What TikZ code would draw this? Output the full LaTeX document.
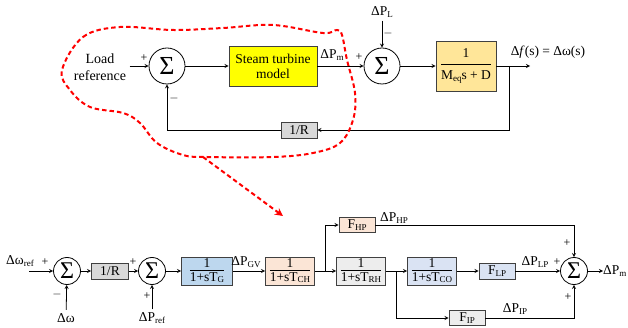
\documentclass[tikz,border=0pt]{standalone}
\usepackage{fontspec}
\setmainfont{Liberation Serif}
\usepackage{tikz}
\usetikzlibrary{shapes, arrows, arrows.meta, positioning, calc}
\definecolor{turbine-yellow}{RGB}{255,255,0}
\definecolor{plant-orange}{RGB}{255,230,153}
\definecolor{gain-gray}{RGB}{217,217,217}
\definecolor{gov-blue}{RGB}{189,215,238}
\definecolor{ch-peach}{RGB}{251,229,214}
\definecolor{rh-gray}{RGB}{237,237,237}
\definecolor{co-blue}{RGB}{218,227,243}
\newcommand{\subtxt}[1]{\raisebox{-0.2ex}{\fontsize{9}{9}\selectfont #1}}
\newcommand{\lagtf}[1]{$\frac{\mbox{1\rule[-2pt]{0pt}{2pt}}}{\mbox{\rule{0pt}{10.5pt}1+sT\subtxt{#1}}}$}

\begin{document}
\begin{tikzpicture}[
    x=1pt, y=-1pt,
    font=\fontsize{13.5}{15}\selectfont,
    block/.style={rectangle, draw=black!75, line width=0.9pt, inner sep=0pt, align=center},
    tfbox/.style={block, minimum width=49pt, minimum height=28pt},
    gainbox/.style={block, minimum width=36pt, minimum height=16pt},
    sumbig/.style={circle, draw, line width=0.8pt, minimum size=36pt, inner sep=0pt, font=\fontsize{26}{26}\selectfont},
    sumsmall/.style={sumbig, minimum size=27pt, font=\fontsize{24}{24}\selectfont},
    sign/.style={inner sep=0pt, font=\fontsize{12}{12}\selectfont},
    arrow/.style={->, line width=0.8pt, >=stealth},
    lens/.style={draw=red, line width=2pt, dash pattern=on 4.5pt off 3pt}
]
\useasboundingbox (0,0) rectangle (628,328);

% Modelo simplificado
\node[align=center, font=\fontsize{14}{17}\selectfont] (loadref) at (100,67) {Load\\reference};
\node[sumbig] (sumA) at (167,66) {Σ};
\node[block, fill=turbine-yellow, minimum width=88pt, minimum height=40pt] (turbine) at (273,66) {Steam turbine\\model};
\node[sumbig] (sumB) at (382,66) {Σ};
\node[block, fill=plant-orange, minimum width=60pt, minimum height=50pt] (plant) at (466,66) {$\frac{\mbox{1}\rule[-6pt]{0pt}{14pt}}{\mbox{\rule{0pt}{15pt}M\subtxt{eq}s + D}}$};
\node[gainbox, fill=gain-gray] (gainA) at (299,130) {1/R};
\node (dPL) at (382,12) {ΔP\subtxt{L}};
\coordinate (tap) at (509,66);
\coordinate (freq) at (530,66);
\node (dPmA) at (332,55) {ΔP\subtxt{m}};
\node (dfreq) at (548,52) {Δ\textit{f}(s) = Δω(s)};

\draw[arrow] (loadref.east |- sumA.west) -- (sumA.west);
\draw[arrow] (sumA) -- (turbine);
\draw[arrow] (turbine) -- (sumB);
\draw[arrow] (dPL) -- (sumB);
\draw[arrow] (sumB) -- (plant);
\draw[arrow] (plant) -- (freq);
\draw[arrow] (tap) |- (gainA);
\draw[arrow] (gainA) -| (sumA);

\node[sign] at (144,58) {+};
\node[sign] at (174,99) {$-$};
\node[sign] at (359,57) {+};
\node[sign] at (388,34) {$-$};

% Destaque
\draw[lens] plot[smooth cycle, tension=0.6] coordinates {(62,70) (83,37) (120,27) (173,30) (223,28) (273,25) (323,33) (337,30) (342,35) (347,60) (355,93) (353,120) (340,143) (313,153) (273,157) (207,157) (183,155) (157,143) (140,123) (123,113) (90,107) (70,90)};
\coordinate (lensout) at (203,157);
\coordinate (lensin) at (283,216);
\draw[lens, -{Stealth[length=8pt, width=8pt]}] (lensout) -- (lensin);

% Modelo detalhado
\node (dwref) at (20,261) {Δω\subtxt{ref}};
\coordinate (wrefin) at (29,271);
\node[sumsmall] (sumC) at (67,271) {Σ};
\node (dw) at (66,318) {Δω};
\node[gainbox, fill=gain-gray, minimum width=37pt] (gainB) at (110,271) {1/R};
\node[sumsmall] (sumD) at (152,271) {Σ};
\node (dPref) at (152,318) {ΔP\subtxt{ref}};
\node[tfbox, fill=gov-blue, minimum width=51pt] (gov) at (207,271) {\lagtf{G}};
\node (dPGV) at (246,262) {ΔP\subtxt{GV}};
\node[tfbox, fill=ch-peach] (chest) at (290,271) {\lagtf{CH}};
\coordinate (splitA) at (325,271);
\node[tfbox, fill=rh-gray] (reheat) at (361,271) {\lagtf{RH}};
\node[gainbox, fill=ch-peach, minimum height=15pt] (fHP) at (357,225) {F\subtxt{HP}};
\node (dPHP) at (394,218) {ΔP\subtxt{HP}};
\coordinate (splitB) at (396,271);
\node[tfbox, fill=co-blue] (cross) at (432,271) {\lagtf{CO}};
\node[gainbox, fill=co-blue] (fLP) at (497,271) {F\subtxt{LP}};
\node (dPLP) at (535,262) {ΔP\subtxt{LP}};
\node[sumsmall] (sumE) at (574,271) {Σ};
\node[gainbox, fill=rh-gray, minimum height=15pt] (fIP) at (467,318) {F\subtxt{IP}};
\node (dPIP) at (515,309) {ΔP\subtxt{IP}};
\coordinate (pmout) at (603,271);
\node[right=0pt of pmout, inner sep=0pt] (dPm) {ΔP\subtxt{m}};

\draw[arrow] (wrefin) -- (sumC);
\draw[arrow] (dw) -- (sumC);
\draw[arrow] (sumC) -- (gainB);
\draw[arrow] (gainB) -- (sumD);
\draw[arrow] (dPref) -- (sumD);
\draw[arrow] (sumD) -- (gov);
\draw[arrow] (gov) -- (chest);
\draw[line width=0.8pt] (chest) -- (splitA);
\draw[arrow] (splitA) -- (reheat);
\draw[arrow] (splitA) |- (fHP);
\draw[arrow] (fHP) -| (sumE);
\draw[line width=0.8pt] (reheat) -- (splitB);
\draw[arrow] (splitB) -- (cross);
\draw[arrow] (splitB) |- (fIP);
\draw[arrow] (fIP) -| (sumE);
\draw[arrow] (cross) -- (fLP);
\draw[arrow] (fLP) -- (sumE);
\draw[arrow] (sumE) -- (pmout);

\node[sign] at (45,262) {+};
\node[sign] at (57,294) {$-$};
\node[sign] at (133,262) {+};
\node[sign] at (147,296) {+};
\node[sign] at (557,262) {+};
\node[sign] at (567,243) {+};
\node[sign] at (568,297) {+};

\end{tikzpicture}
\end{document}
